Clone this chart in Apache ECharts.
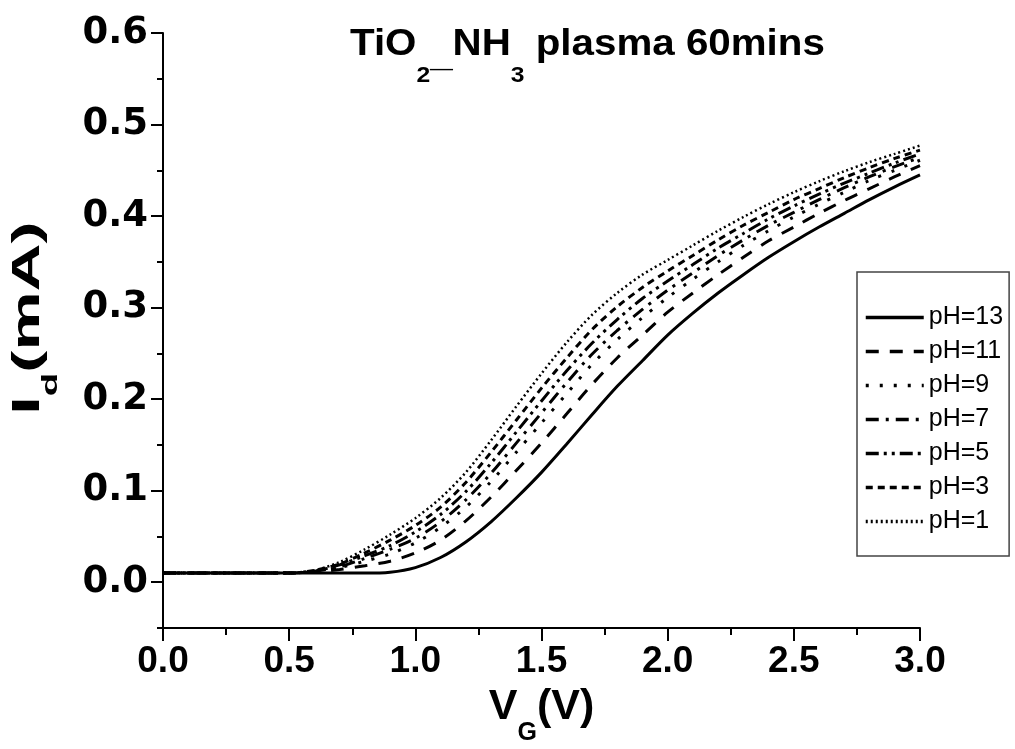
<!DOCTYPE html>
<html>
<head>
<meta charset="utf-8">
<script src="https://cdn.jsdelivr.net/npm/echarts@6/dist/echarts.min.js"></script>
<style>html,body{margin:0;padding:0;background:#fff}#c{width:1015px;height:749px}</style>
</head>
<body>
<div id="c"></div>
<script>
const vg = [0.0,0.1,0.2,0.3,0.4,0.5,0.6,0.7,0.8,0.9,1.0,1.1,1.2,1.3,1.4,1.5,1.6,1.7,1.8,1.9,2.0,2.1,2.2,2.3,2.4,2.5,2.6,2.7,2.8,2.9,3.0];
const pH13 = [0.01,0.01,0.01,0.01,0.01,0.01,0.01,0.01,0.01,0.011,0.016,0.027,0.044,0.066,0.092,0.12,0.151,0.183,0.214,0.242,0.27,0.294,0.316,0.336,0.355,0.372,0.388,0.403,0.418,0.432,0.445];
const pH11 = [0.01,0.01,0.01,0.01,0.01,0.01,0.011,0.014,0.018,0.023,0.032,0.046,0.067,0.093,0.122,0.152,0.184,0.216,0.245,0.27,0.295,0.316,0.336,0.355,0.373,0.388,0.403,0.417,0.43,0.443,0.455];
const pH9  = [0.01,0.01,0.01,0.01,0.01,0.01,0.012,0.016,0.023,0.031,0.043,0.06,0.082,0.11,0.142,0.174,0.206,0.238,0.265,0.289,0.311,0.331,0.35,0.368,0.384,0.399,0.413,0.426,0.439,0.45,0.461];
const pH7  = [0.01,0.01,0.01,0.01,0.01,0.01,0.012,0.017,0.026,0.036,0.048,0.066,0.09,0.119,0.152,0.185,0.218,0.249,0.275,0.298,0.319,0.338,0.357,0.374,0.39,0.404,0.418,0.431,0.443,0.454,0.464];
const pH5  = [0.01,0.01,0.01,0.01,0.01,0.01,0.012,0.019,0.029,0.04,0.055,0.074,0.099,0.13,0.164,0.198,0.231,0.261,0.287,0.31,0.329,0.347,0.365,0.381,0.397,0.411,0.424,0.436,0.447,0.458,0.468];
const pH3  = [0.01,0.01,0.01,0.01,0.01,0.01,0.013,0.02,0.032,0.046,0.062,0.082,0.109,0.142,0.177,0.212,0.245,0.276,0.301,0.322,0.34,0.357,0.374,0.39,0.404,0.418,0.43,0.442,0.453,0.463,0.472];
const pH1  = [0.01,0.01,0.01,0.01,0.01,0.01,0.013,0.022,0.036,0.052,0.07,0.092,0.12,0.155,0.192,0.228,0.262,0.292,0.316,0.336,0.352,0.368,0.384,0.399,0.413,0.426,0.438,0.449,0.459,0.468,0.477];
const seriesNames = ['pH=13','pH=11','pH=9','pH=7','pH=5','pH=3','pH=1'];
const seriesData = [pH13,pH11,pH9,pH7,pH5,pH3,pH1];
const yMajorTicks = [0.0,0.1,0.2,0.3,0.4,0.5,0.6];
const yMinorTicks = [-0.05,0.05,0.15,0.25,0.35,0.45,0.55];
const titleParts = ['TiO','2','_','NH','3',' plasma 60mins'];
const xAxisTitle = ['V','G','(V)'];
const yAxisTitle = ['I','d','(mA)'];

const dashes = ['solid',[13,11],[3,11],[13,7,3,7],[13,5,3,5,3,5],[7,5],[2,3]];
const widths = [3,3,3,3,3,3,2.5];
const F = '"Liberation Sans", Arial, sans-serif';
const FW = '"DejaVu Sans", "Liberation Sans", sans-serif';

const chart = echarts.init(document.getElementById('c'), null, {renderer:'canvas'});
const series = seriesNames.map((n,i)=>({
  name:n, type:'line', xAxisIndex:0, yAxisIndex:0,
  data: vg.map((x,j)=>[x, seriesData[i][j]]),
  showSymbol:false, symbol:'none', smooth:0.3,
  lineStyle:{color:'#000', width:widths[i], type:dashes[i]},
  itemStyle:{color:'#000'}, animation:false
}));
const axisLineStyle = {color:'#000', width:2};
chart.setOption({
  backgroundColor:'#fff',
  animation:false,
  graphic:[{
    type:'text', x:350, y:27, scaleX:1.12, scaleY:1, silent:true,
    style:{
      text:'{m|'+titleParts[0]+'}{s|'+titleParts[1]+'}{u|'+titleParts[2]+'}{m|'+titleParts[3]+'}{s|'+titleParts[4]+'}{m|'+titleParts[5]+'}',
      align:'left', verticalAlign:'top',
      rich:{
        m:{fontFamily:F, fontWeight:'bold', fontSize:36, fill:'#000', lineHeight:60, verticalAlign:'top'},
        s:{fontFamily:F, fontWeight:'bold', fontSize:22, fill:'#000', lineHeight:60, verticalAlign:'bottom'},
        u:{fontFamily:F, fontWeight:'bold', fontSize:36, fill:'#000', lineHeight:60, verticalAlign:'bottom', padding:[0,0,13,0]}
      }
    }
  },{
    type:'text', x:36, y:318, rotation:Math.PI/2, scaleX:1.75, scaleY:1, silent:true,
    style:{
      text:'{m|'+yAxisTitle[0]+'}{s|'+yAxisTitle[1]+'}{m|'+yAxisTitle[2]+'}',
      align:'center', verticalAlign:'middle',
      rich:{
        m:{fontFamily:F, fontWeight:'bold', fontSize:38, fill:'#000', lineHeight:52, verticalAlign:'top'},
        s:{fontFamily:F, fontWeight:'bold', fontSize:22, fill:'#000', lineHeight:52, verticalAlign:'bottom'}
      }
    }
  }],
  legend:{
    orient:'vertical', left:857, top:272,
    padding:[33,6,22,7], itemGap:9, itemWidth:58, itemHeight:14,
    borderColor:'#444', borderWidth:1.5,
    itemStyle:{opacity:0, color:'rgba(0,0,0,0)', borderWidth:0},
    lineStyle:{width:3.5},
    textStyle:{fontFamily:F, fontSize:25, color:'#000', lineHeight:25},
    data:seriesNames
  },
  grid:{left:163, right:95, top:33, bottom:121, containLabel:false, outerBoundsMode:'none'},
  xAxis:{
    type:'value', min:0, max:3, interval:0.5,
    name:'{m|'+xAxisTitle[0]+'}{s|'+xAxisTitle[1]+'}{m|'+xAxisTitle[2]+'}', nameLocation:'middle', nameGap:58,
    nameTextStyle:{rich:{
      m:{fontFamily:F, fontWeight:'bold', fontSize:43, color:'#000', lineHeight:60, verticalAlign:'top'},
      s:{fontFamily:F, fontWeight:'bold', fontSize:25, color:'#000', lineHeight:60, verticalAlign:'bottom'}
    }},
    axisLine:{show:true, onZero:false, lineStyle:axisLineStyle},
    axisTick:{show:true, inside:false, length:13, lineStyle:axisLineStyle},
    minorTick:{show:true, splitNumber:2, length:7, lineStyle:axisLineStyle},
    axisLabel:{fontFamily:F, fontWeight:'bold', fontSize:37, color:'#000', margin:15, formatter:v=>v.toFixed(1)},
    splitLine:{show:false}
  },
  yAxis:[{
    type:'value', min:-0.05, max:0.6,
    axisLine:{show:true, onZero:false, lineStyle:axisLineStyle},
    axisTick:{show:true, inside:false, length:12, lineStyle:axisLineStyle, customValues:yMajorTicks},
    axisLabel:{fontFamily:FW, fontWeight:'bold', fontSize:37, color:'#000', margin:15, customValues:yMajorTicks, formatter:v=>v.toFixed(1)},
    splitLine:{show:false}
  },{
    type:'value', min:-0.05, max:0.6, position:'left',
    axisLine:{show:false, onZero:false},
    axisTick:{show:true, inside:false, length:6, lineStyle:axisLineStyle, customValues:yMinorTicks},
    axisLabel:{show:false},
    splitLine:{show:false}
  }],
  series:series
});
</script>
</body>
</html>
